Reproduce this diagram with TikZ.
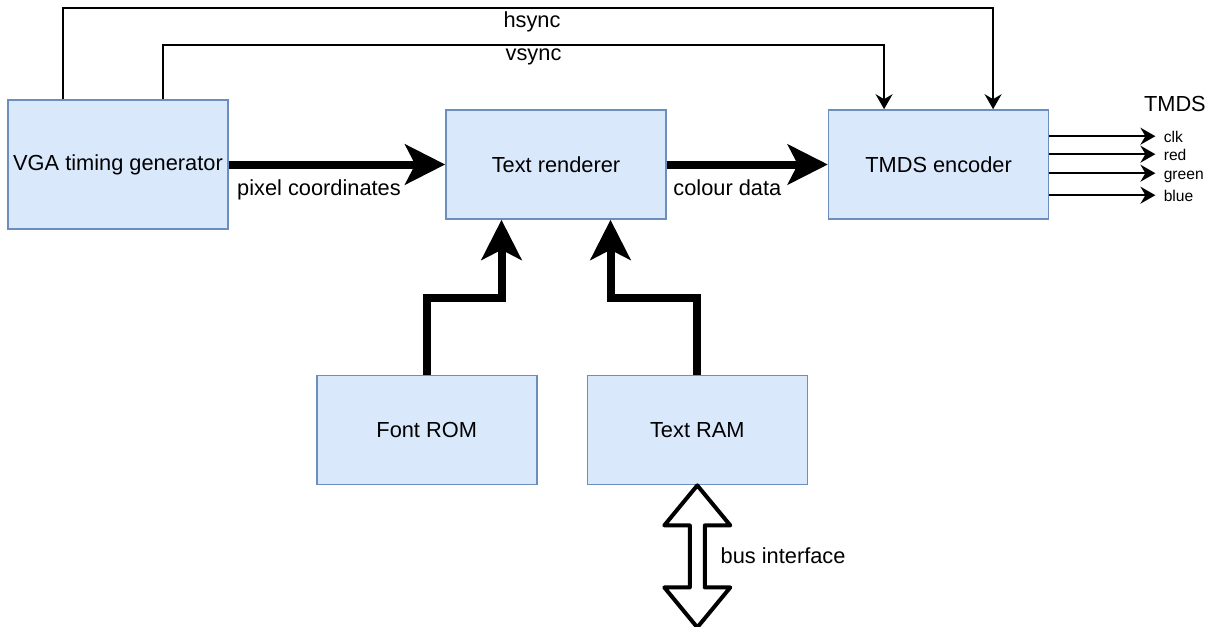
\documentclass[tikz,border=0pt]{standalone}
\usepackage{fontspec}
\setmainfont{Liberation Sans}
\usepackage{xcolor}
\usetikzlibrary{positioning,arrows.meta}

\definecolor{boxfill}{HTML}{DAE8FC}
\definecolor{boxline}{HTML}{6C8EBF}

\begin{document}
\begin{tikzpicture}[
    box/.style={draw=boxline, fill=boxfill, line width=0.8pt, minimum width=110pt, minimum height=54.5pt, inner sep=1pt, align=center, font=\fontsize{10.9}{13}\selectfont},
    bus/.style={-{Stealth[length=20pt,width=20pt,inset=5pt]}, line width=4pt},
    sig/.style={-{Stealth[length=7.5pt,width=8.5pt,inset=2.5pt]}, line width=0.9pt},
    lbl/.style={inner sep=1pt, font=\fontsize{10.9}{13}\selectfont},
    pin/.style={inner sep=1pt, text height=1.5ex, text depth=0.25ex, font=\fontsize{7.8}{9}\selectfont}
]
\useasboundingbox (-59pt,82.25pt) rectangle (547pt,-231.25pt);

\node[box, minimum height=64.5pt] (vga) at (0,0) {VGA timing generator};
\node[box, right=108.2pt of vga] (rend) {Text renderer};
\node[box, right=80.5pt of rend] (tmds) {TMDS encoder};
\node[box, below left=77.5pt and 9.25pt of rend.south] (font) {Font ROM};
\node[box, right=24.5pt of font] (ram) {Text RAM};

% data path
\draw[bus] (vga) -- node[lbl, pos=0, below right=4.5pt and 1.2pt] (pixlbl) {pixel coordinates} (rend);
\draw[bus] (rend) -- node[lbl, pos=0, below right=4.5pt and 0.3pt] (collbl) {colour data} (tmds);
\draw[bus] (font.north) -- ++(0,38.5pt) -| ([xshift=-27.25pt]rend.south);
\draw[bus] (ram.north) -- ++(0,38.5pt) -| ([xshift=27.25pt]rend.south);

% sync lines
\draw[sig] ([xshift=-27.5pt]vga.north) -- ++(0,45.5pt) -| node[lbl, pos=0.25, below=0.5pt, xshift=2pt] (hlbl) {hsync} ([xshift=27.25pt]tmds.north);
\draw[sig] ([xshift=22.5pt]vga.north) -- ++(0,27pt) -| node[lbl, pos=0.25, below=0.5pt, xshift=5pt] (vlbl) {vsync} ([xshift=-27.25pt]tmds.north);

% TMDS outputs
\node[lbl] (tmdslbl) at ([shift={(62.75pt,2.5pt)}]tmds.north east) {TMDS};
\foreach \name/\dy in {clk/27, red/45, green/64, blue/86} {
  \node[pin, anchor=west] (p-\name) at ([shift={(56pt,-\dy*0.5pt)}]tmds.north east) {\name};
  \draw[sig] (tmds.east |- p-\name) -- ([xshift=-3pt]p-\name.west);
}

% bus interface
\draw[line width=2pt, line join=round, fill=white] (ram.south) -- ++(16.5pt,-20pt) -- ++(-12.75pt,0) -- ++(0,-31pt) -- ++(12.75pt,0) -- ++(-16.5pt,-20pt) coordinate (busend) -- ++(-16.5pt,20pt) -- ++(12.75pt,0) -- ++(0,31pt) -- ++(-12.75pt,0) -- cycle;
\node[lbl, anchor=west] (buslbl) at ([shift={(10.5pt,-35pt)}]ram.south) {bus interface};

\end{tikzpicture}
\end{document}
